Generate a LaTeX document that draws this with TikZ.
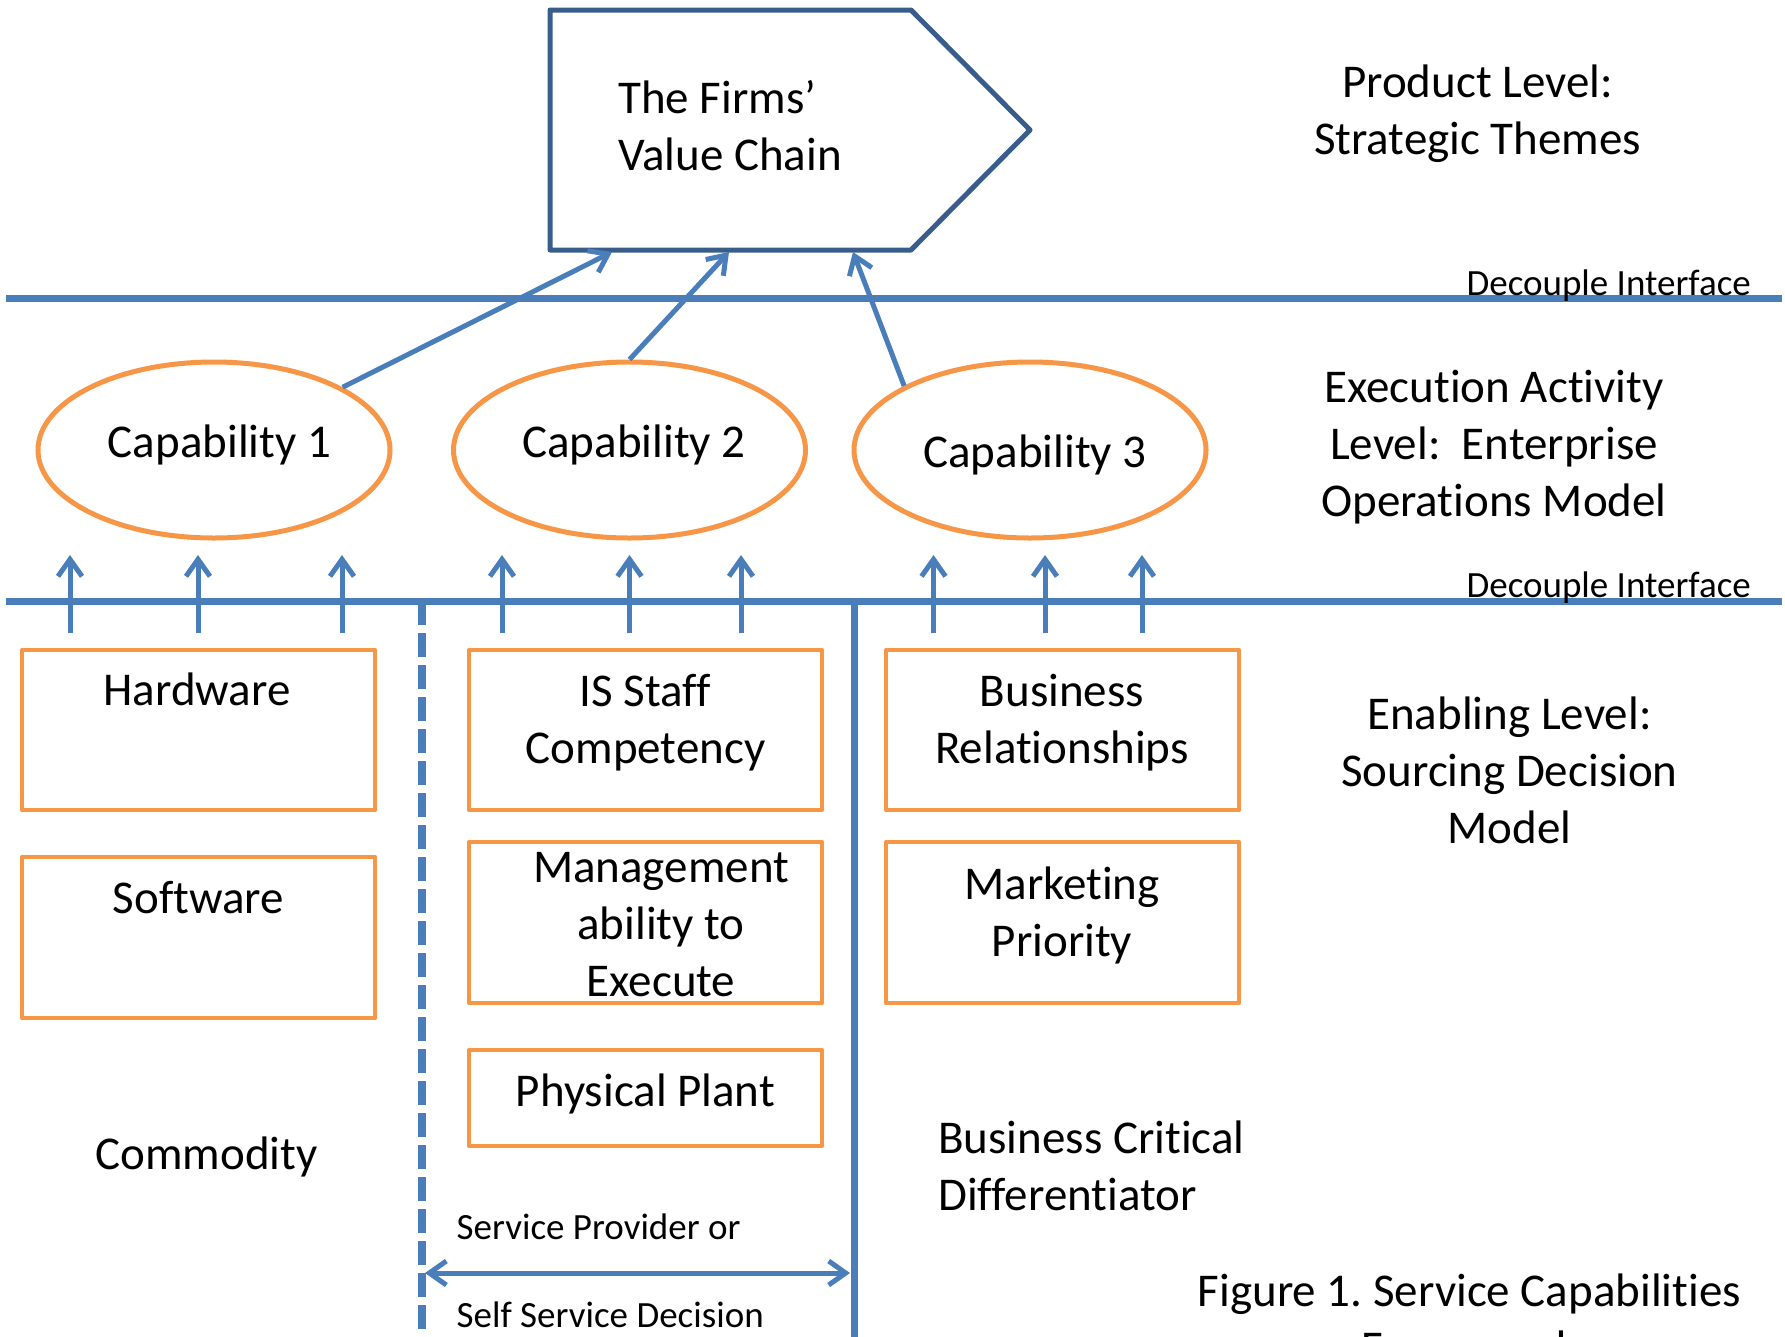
\documentclass[tikz,border=0pt]{standalone}
\usepackage{fontspec}
\setmainfont{Carlito}[Ligatures={NoCommon}]
\usetikzlibrary{arrows.meta,shapes.geometric}
\definecolor{lineblue}{RGB}{74,126,187}
\definecolor{chainblue}{RGB}{56,93,138}
\definecolor{caporange}{RGB}{247,150,70}
\frenchspacing
\begin{document}
\begin{tikzpicture}[x=1pt,y=-1pt,
  barb/.tip={Straight Barb[length=17pt,width=24pt]},
  bigtext/.style={font=\fontsize{47}{57}\selectfont, inner sep=0pt, align=center},
  smalltext/.style={font=\fontsize{37}{45}\selectfont, inner sep=0pt},
  divider/.style={draw=lineblue, line width=7pt},
  feed/.style={draw=lineblue, line width=5pt, -barb},
  capability/.style={ellipse, draw=caporange, line width=5pt,
    minimum width=352pt, minimum height=176pt, inner sep=0pt},
  resource/.style={rectangle, draw=caporange, line width=4.5pt, line join=round,
    minimum width=353pt, minimum height=160pt, inner sep=0pt},
]
\useasboundingbox (0,0) rectangle (1785,1336);

% interface lines and the sourcing dividers
\coordinate (d1w) at (6,298);   \coordinate (d1e) at (1782,298);
\coordinate (d2w) at (6,601);   \coordinate (d2e) at (1782,601);
\coordinate (dashtop) at (422,601); \coordinate (dashbot) at (422,1345);
\coordinate (soltop) at (854,601);  \coordinate (solbot) at (854,1345);
\draw[divider] (d1w) -- (d1e);
\draw[divider] (d2w) -- (d2e);
\draw[divider, line width=7.5pt, dash pattern=on 24pt off 8pt] (dashtop) -- (dashbot);
\draw[divider] (soltop) -- (solbot);

% value chain
\coordinate (vcNW) at (550,10);  \coordinate (vcNE) at (911,10);
\coordinate (vcTip) at (1030,130);
\coordinate (vcSE) at (911,250); \coordinate (vcSW) at (550,250);
\draw[chainblue, line width=5pt, line join=round]
  (vcNW) -- (vcNE) -- (vcTip) -- (vcSE) -- (vcSW) -- cycle;
% multi-line nodes: the base anchor sits on the last line
\node[bigtext, align=left, anchor=base west] (vctext) at (618,170) {The Firms’\\Value Chain};

% capabilities
\node[capability] (c1) at (214,450) {};
\node[capability] (c2) at (629.5,450) {};
\node[capability] (c3) at (1030,450) {};
\node[bigtext, anchor=base] (c1t) at (219.5,457) {Capability 1};
\node[bigtext, anchor=base] (c2t) at (634,457) {Capability 2};
\node[bigtext, anchor=base] (c3t) at (1035,467) {Capability 3};

\coordinate (t1) at (612,252);
\coordinate (t2) at (729,252);
\coordinate (t3) at (853,252);
\draw[feed] (c1.26.7) -- (t1);
\draw[feed] (c2.north) -- (t2);
\draw[feed] (c3.153.3) -- (t3);

% inputs rising through the lower interface
\foreach \x in {70,198,342,502,629.5,741,933.5,1045,1142}
  \draw[feed] (\x,633) -- (\x,555);

% enabling resources
\node[resource] (hw) at (198.5,730) {};
\node[resource, minimum height=161pt] (sw) at (198.5,937.5) {};
\node[resource] (is) at (645.5,730) {};
\node[resource, minimum height=161pt] (mg) at (645.5,922.5) {};
\node[resource, minimum height=96pt] (pp) at (645.5,1098) {};
\node[resource] (br) at (1062.5,730) {};
\node[resource, minimum height=161pt] (mk) at (1062.5,922.5) {};

\node[bigtext, anchor=base] (hwt) at (197,705) {Hardware};
\node[bigtext, anchor=base] (swt) at (198.5,913) {Software};
\node[bigtext, anchor=base] (ist) at (645.5,763) {IS Staff\\Competency};
\node[bigtext, anchor=base] (mgt) at (661,996) {Management\\ability to\\Execute};
\node[bigtext, anchor=base] (ppt) at (645.5,1106) {Physical Plant};
\node[bigtext, anchor=base] (brt) at (1062,763) {Business\\Relationships};
\node[bigtext, anchor=base] (mkt) at (1062,956) {Marketing\\Priority};

% level captions
\node[smalltext, anchor=base east] (dec1) at (1751,295) {Decouple Interface};
\node[smalltext, anchor=base east] (dec2) at (1751,597) {Decouple Interface};
\node[bigtext, anchor=base] (lvl1) at (1477.6,154) {Product Level:\\Strategic Themes};
\node[bigtext, anchor=base] (lvl2) at (1494,516) {Execution Activity\\Level:\ \ Enterprise\\Operations Model};
\node[bigtext, anchor=base] (lvl3) at (1509.5,843) {Enabling Level:\\Sourcing Decision\\Model};
\node[bigtext, anchor=base] (comm) at (206.6,1169) {Commodity};
\node[bigtext, align=left, anchor=base west] (bcd) at (938,1210) {Business Critical\\Differentiator};

% sourcing decision span
\coordinate (spl) at (425,1273);
\coordinate (spr) at (850,1273);
\draw[feed, barb-barb] (spl) -- (spr);
\node[smalltext, anchor=base west] (sp1) at (456.5,1239) {Service Provider or};
\node[smalltext, anchor=base west] (sp2) at (456.5,1327) {Self Service Decision};

\node[bigtext, anchor=base] (fig) at (1469.5,1363) {Figure 1. Service Capabilities\\Framework};
\end{tikzpicture}
\end{document}
